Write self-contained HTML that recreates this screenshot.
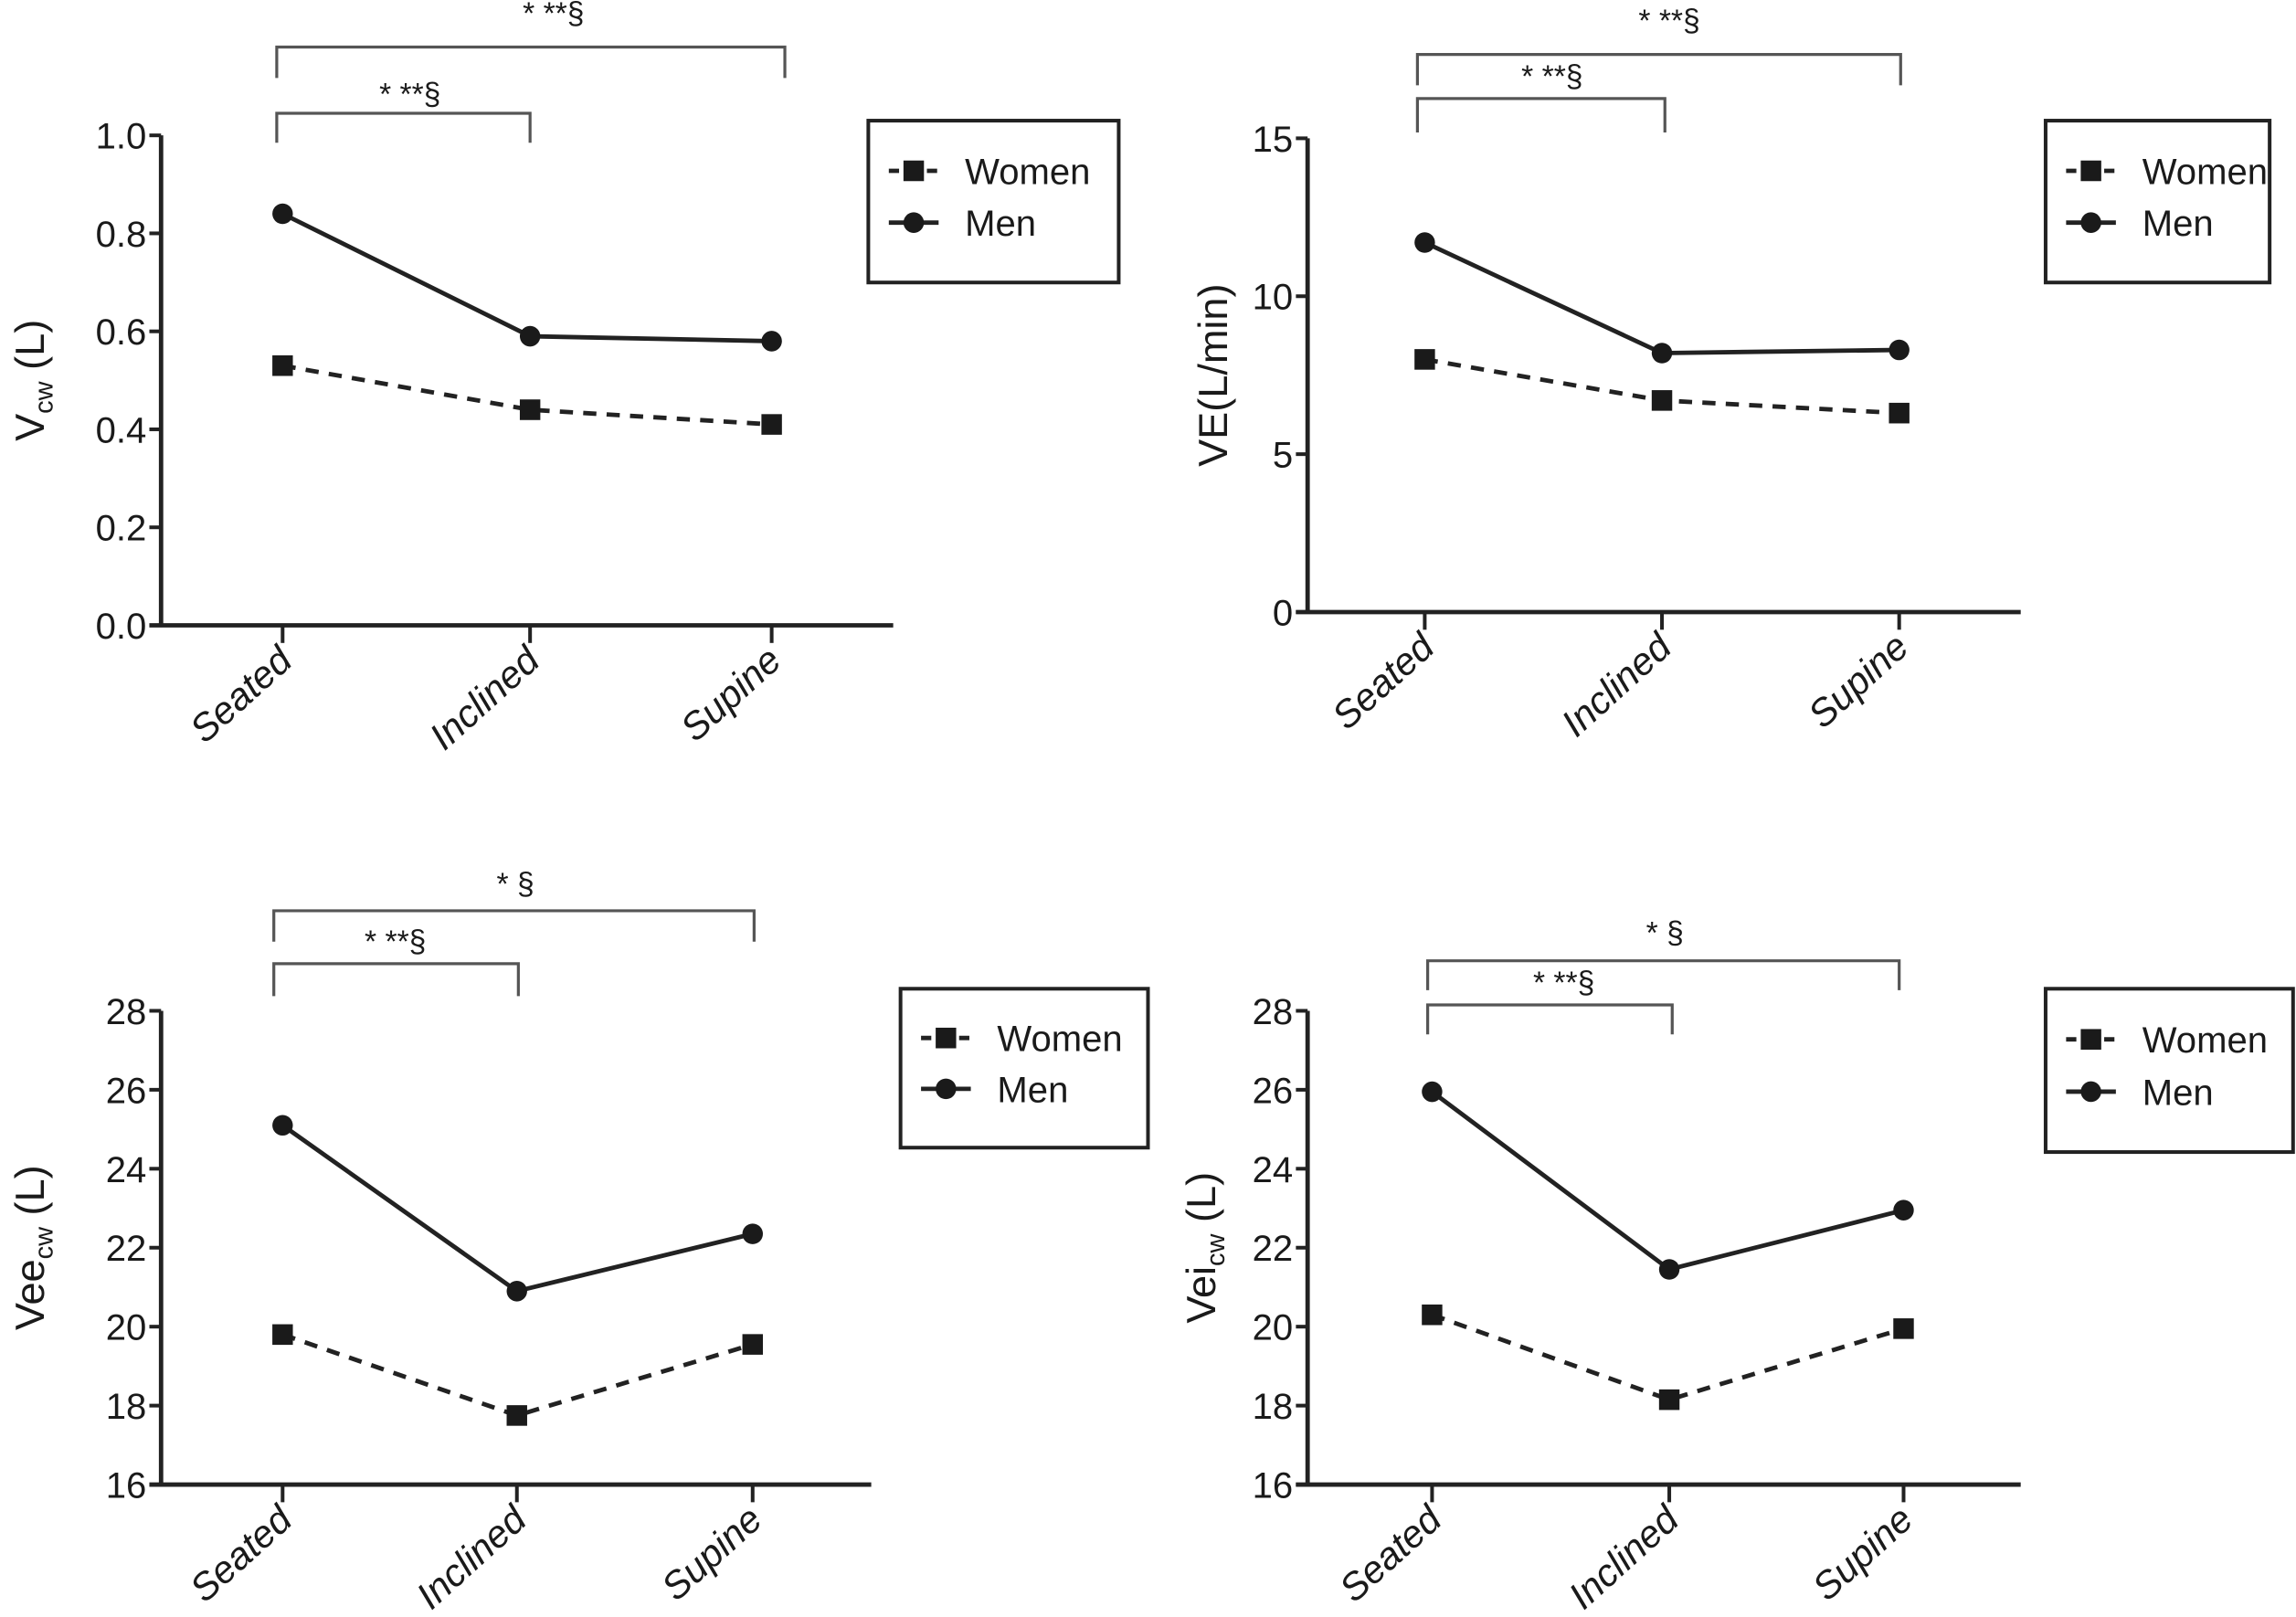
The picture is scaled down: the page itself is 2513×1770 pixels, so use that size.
<!DOCTYPE html>
<html><head><meta charset="utf-8"><style>
html,body{margin:0;padding:0;background:#fff}
svg{display:block}
text{font-family:"Liberation Sans Narrow","Liberation Sans",sans-serif;fill:#1a1a1a}
.lg{font-family:"Liberation Sans",sans-serif}
</style></head><body>
<svg id="fig" width="2513" height="1770" viewBox="0 0 1568 1099" preserveAspectRatio="none" xmlns="http://www.w3.org/2000/svg"></svg>
<script>
const categories = ["Seated","Inclined","Supine"];
const p1Men = [0.84,0.59,0.58];
const p1Women = [0.53,0.44,0.41];
const p1Ticks = ["0.0","0.2","0.4","0.6","0.8","1.0"];
const p2Men = [11.7,8.2,8.3];
const p2Women = [8.0,6.7,6.3];
const p2Ticks = ["0","5","10","15"];
const p3Men = [25.1,20.9,22.35];
const p3Women = [19.8,17.75,19.55];
const p3Ticks = ["16","18","20","22","24","26","28"];
const p4Men = [25.95,21.45,22.95];
const p4Women = [20.3,18.15,19.95];
const p4Ticks = ["16","18","20","22","24","26","28"];

const NS="http://www.w3.org/2000/svg";
const svg=document.getElementById('fig');
function mk(tag,attrs,parent,txt){const e=document.createElementNS(NS,tag);for(const k in attrs)e.setAttribute(k,attrs[k]);if(txt!==undefined)e.textContent=txt;(parent||svg).appendChild(e);return e;}

const panels=[
 {id:'vcw',men:p1Men,women:p1Women,ticks:p1Ticks,ax:110,y0:425,y1:92,axEnd:610,cx:[193,362,527],
  title:['V','cw',' (L)'],tx:30,
  br:[{x1:189,x2:362,y:77,bot:97,lab:'* **§',lx:280,ly:71},{x1:189,x2:536,y:32,bot:53,lab:'* **§',lx:378,ly:16}],
  leg:[593,82,171,110]},
 {id:'ve',men:p2Men,women:p2Women,ticks:p2Ticks,ax:893,y0:416,y1:94,axEnd:1380,cx:[973,1135,1297],
  title:['VE(L/min)','',''],tx:838,
  br:[{x1:968,x2:1137,y:67,bot:90,lab:'* **§',lx:1060,ly:59},{x1:968,x2:1298,y:37,bot:58,lab:'* **§',lx:1140,ly:21}],
  leg:[1397,82,153,110]},
 {id:'veecw',men:p3Men,women:p3Women,ticks:p3Ticks,ax:110,y0:1009,y1:687,axEnd:595,cx:[193,353,514],
  title:['Vee','cw',' (L)'],tx:30,
  br:[{x1:187,x2:354,y:655,bot:677,lab:'* **§',lx:270,ly:647},{x1:187,x2:515,y:619,bot:640,lab:'* §',lx:352,ly:608}],
  leg:[615,672,169,108]},
 {id:'veicw',men:p4Men,women:p4Women,ticks:p4Ticks,ax:893,y0:1009,y1:687,axEnd:1380,cx:[978,1140,1300],
  title:['Vei','cw',' (L)'],tx:830,
  br:[{x1:975,x2:1142,y:683,bot:703,lab:'* **§',lx:1068,ly:675},{x1:975,x2:1297,y:653,bot:673,lab:'* §',lx:1137,ly:641}],
  leg:[1397,672,169,111]}
];

panels.forEach(p=>{
 const g=mk('g',{});
 
 
 const tmin=parseFloat(p.ticks[0]), tmax=parseFloat(p.ticks[p.ticks.length-1]);
 const y=v=>p.y0+(v-tmin)/(tmax-tmin)*(p.y1-p.y0);
 const ya=mk('line',{x1:p.ax,y1:p.y0,x2:p.ax,y2:p.y1,stroke:'#222','stroke-width':3},g);
 
 const xa=mk('line',{x1:p.ax-8,y1:p.y0,x2:p.axEnd,y2:p.y0,stroke:'#222','stroke-width':3},g);
 
 p.ticks.forEach(t=>{
  const v=parseFloat(t),yy=y(v);
  mk('line',{x1:p.ax-8,y1:yy,x2:p.ax,y2:yy,stroke:'#222','stroke-width':2.5},g);
  const tl=mk('text',{x:p.ax-10,y:yy+9,'text-anchor':'end','font-size':25},g,t);
  
 });
 categories.forEach((c,i)=>{
  const x=p.cx[i];
  mk('line',{x1:x,y1:p.y0,x2:x,y2:p.y0+12,stroke:'#222','stroke-width':2.5},g);
  const cl=mk('text',{x:x+8,y:p.y0+26,'text-anchor':'end','font-size':26,'font-style':'italic',transform:`rotate(-42 ${x+8} ${p.y0+26})`,'class':'lg'},g,c);
  
 });
 const ymid=(p.y0+p.y1)/2;
 const tt=mk('text',{x:p.tx,y:ymid,'text-anchor':'middle','font-size':28,transform:`rotate(-90 ${p.tx} ${ymid})`,'class':'lg'},g);
 
 mk('tspan',{},tt,p.title[0]);
 if(p.title[1]){mk('tspan',{'font-size':18,dy:6},tt,p.title[1]);mk('tspan',{dy:-6},tt,p.title[2]);}
 const ptsW=p.women.map((v,i)=>p.cx[i]+','+y(v)).join(' ');
 const ptsM=p.men.map((v,i)=>p.cx[i]+','+y(v)).join(' ');
 const lw=mk('polyline',{points:ptsW,fill:'none',stroke:'#222','stroke-width':3,'stroke-dasharray':'9,7'},g);
 
 const lm=mk('polyline',{points:ptsM,fill:'none',stroke:'#222','stroke-width':3},g);
 
 p.women.forEach((v,i)=>{
  const r=mk('rect',{x:p.cx[i]-7,y:y(v)-7,width:14,height:14,fill:'#1a1a1a'},g);
  
 });
 p.men.forEach((v,i)=>{
  const c=mk('circle',{cx:p.cx[i],cy:y(v),r:7,fill:'#1a1a1a'},g);
  
 });
 p.br.forEach(b=>{
  const br=mk('polyline',{points:`${b.x1},${b.bot} ${b.x1},${b.y} ${b.x2},${b.y} ${b.x2},${b.bot}`,fill:'none',stroke:'#555','stroke-width':2},g);
  
  const bl=mk('text',{x:b.lx,y:b.ly,'text-anchor':'middle','font-size':21,'class':'lg'},g,b.lab);
  
 });
 const [lx,ly,lwid,lh]=p.leg;
 const lg=mk('g',{},g);
 
 mk('rect',{x:lx,y:ly,width:lwid,height:lh,fill:'#fff',stroke:'#222','stroke-width':2.5},lg);
 const r1=ly+lh*0.31,r2=ly+lh*0.63;
 mk('line',{x1:lx+14,y1:r1,x2:lx+48,y2:r1,stroke:'#222','stroke-width':3,'stroke-dasharray':'7,6'},lg);
 mk('rect',{x:lx+24,y:r1-7,width:14,height:14,fill:'#1a1a1a'},lg);
 const e1=mk('text',{x:lx+66,y:r1+9,'font-size':25},lg,'Women');
 
 mk('line',{x1:lx+14,y1:r2,x2:lx+48,y2:r2,stroke:'#222','stroke-width':3},lg);
 mk('circle',{cx:lx+31,cy:r2,r:7,fill:'#1a1a1a'},lg);
 const e2=mk('text',{x:lx+66,y:r2+9,'font-size':25},lg,'Men');
 
});
</script>
</body></html>
